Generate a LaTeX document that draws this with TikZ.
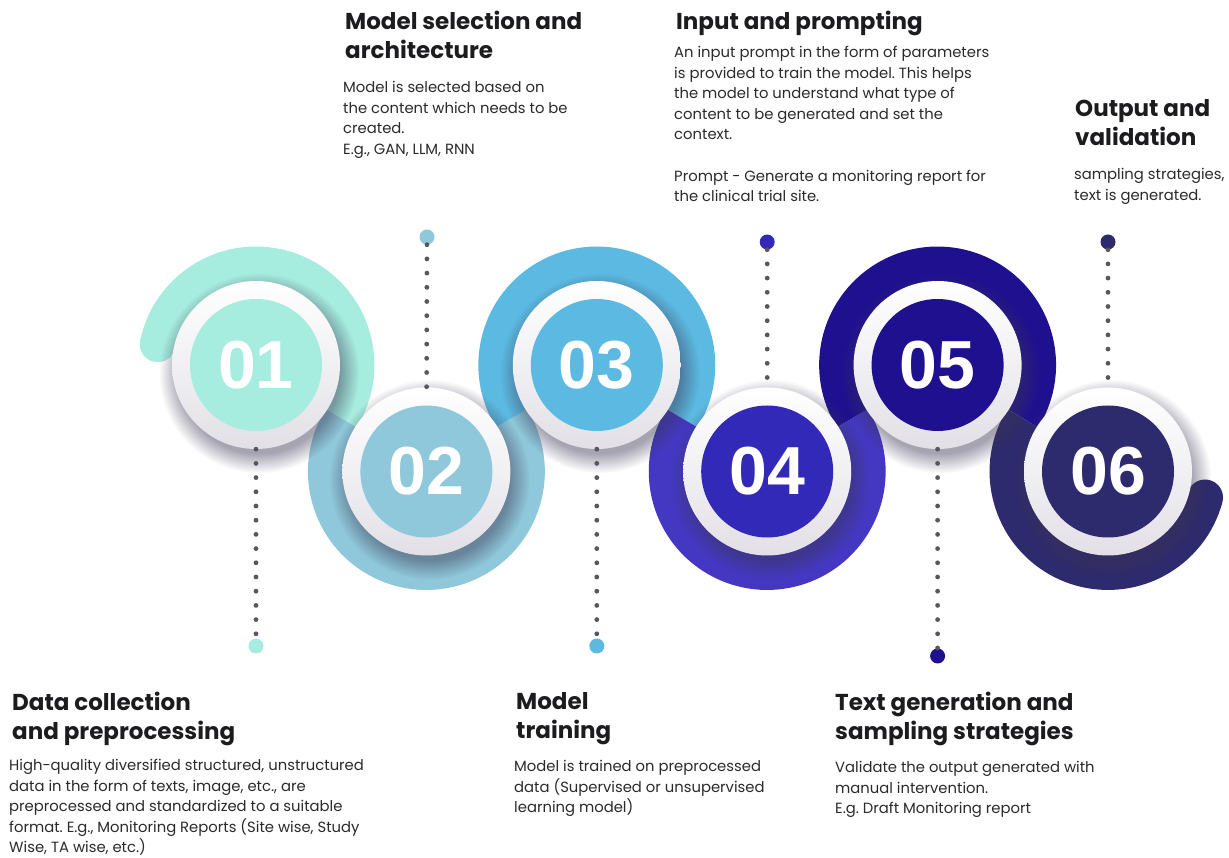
\documentclass[tikz,border=0pt]{standalone}
\usepackage{fontspec}
\setmainfont{Poppins}
\newfontfamily\numfamily{Liberation Sans}
\usetikzlibrary{positioning, fadings}
\frenchspacing

\definecolor{mintc}{HTML}{A6EDDF}
\definecolor{steelc}{HTML}{8FC8DA}
\definecolor{skyc}{HTML}{5CBAE2}
\definecolor{violetc}{HTML}{3329B8}
\definecolor{violetband}{HTML}{4438C2}
\definecolor{indigoc}{HTML}{1F1090}
\definecolor{navyc}{HTML}{2E2A6E}
\definecolor{ringgray}{HTML}{E2E0E6}
\definecolor{shadowc}{HTML}{3A3552}
\definecolor{dotgray}{HTML}{58585C}
\definecolor{inkc}{HTML}{1C1C1F}
\definecolor{bodyc}{HTML}{2A2A2D}

\def\bandr{100.45}

\tikzset{
  band/.style={line width=36pt},
  softshadow/.style={fill=shadowc, opacity=0.45, path fading=circle with fuzzy edge 20 percent},
  ring/.style={circle, minimum size=168pt, inner sep=0pt, top color=white, bottom color=ringgray},
  disc/.style={circle, minimum size=132pt, inner sep=0pt, text=white,
    font=\numfamily\bfseries\fontsize{68}{68}\selectfont},
  enddot/.style={circle, minimum size=15pt, inner sep=0pt},
  dotline/.style={dotgray, line width=4.8pt, line cap=round, dash pattern=on 0pt off 14.2pt},
  head/.style={anchor=north west, inner sep=0pt, align=left, text=inkc,
    font=\bfseries\fontsize{23}{29.2}\selectfont},
  body/.style={anchor=north west, inner sep=0pt, align=left, text=bodyc,
    font=\fontsize{14.8}{20.6}\selectfont}
}

\begin{document}
\begin{tikzpicture}[x=1pt, y=1pt]
\useasboundingbox (0,0) rectangle (1229,857);

\coordinate (c1) at (256,492);
\coordinate (c2) at (426.4,385.5);
\coordinate (c3) at (596.8,492);
\coordinate (c4) at (767.2,385.5);
\coordinate (c5) at (937.6,492);
\coordinate (c6) at (1108,385.5);

\draw[band, mintc] (c1) ++(168:\bandr) arc[start angle=168, end angle=-32, radius=\bandr];
\fill[mintc] (c1) ++(168:\bandr) circle[radius=18];
\draw[band, steelc] (c2) ++(148:\bandr) arc[start angle=148, end angle=392, radius=\bandr];
\draw[band, skyc] (c3) ++(212:\bandr) arc[start angle=212, end angle=-32, radius=\bandr];
\draw[band, violetband] (c4) ++(148:\bandr) arc[start angle=148, end angle=392, radius=\bandr];
\draw[band, indigoc] (c5) ++(212:\bandr) arc[start angle=212, end angle=-32, radius=\bandr];
\draw[band, navyc] (c6) ++(148:\bandr) arc[start angle=148, end angle=345, radius=\bandr];
\fill[navyc] (c6) ++(345:\bandr) circle[radius=18];

\fill[softshadow] ([shift={(3,-8)}]c1) circle[radius=100];
\fill[softshadow] ([shift={(3,-8)}]c2) circle[radius=100];
\fill[softshadow] ([shift={(3,-8)}]c3) circle[radius=100];
\fill[softshadow] ([shift={(3,-8)}]c4) circle[radius=100];
\fill[softshadow] ([shift={(3,-8)}]c5) circle[radius=100];
\fill[softshadow] ([shift={(3,-8)}]c6) circle[radius=100];

\node[ring] (r1) at (c1) {};
\node[ring] (r2) at (c2) {};
\node[ring] (r3) at (c3) {};
\node[ring] (r4) at (c4) {};
\node[ring] (r5) at (c5) {};
\node[ring] (r6) at (c6) {};

\node[disc, fill=mintc] (n1) at (c1) {01};
\node[disc, fill=steelc] (n2) at (c2) {02};
\node[disc, fill=skyc] (n3) at (c3) {03};
\node[disc, fill=violetc] (n4) at (c4) {04};
\node[disc, fill=indigoc] (n5) at (c5) {05};
\node[disc, fill=navyc] (n6) at (c6) {06};

\node[enddot, fill=mintc] (d1) at (256,211) {};
\node[enddot, fill=steelc] (d2) at (427,620) {};
\node[enddot, fill=skyc] (d3) at (596.8,211) {};
\node[enddot, fill=violetc] (d4) at (767.2,615) {};
\node[enddot, fill=indigoc] (d5) at (937.6,201) {};
\node[enddot, fill=navyc] (d6) at (1108,615) {};

\draw
  (r1) edge[dotline] (d1)
  (d2) edge[dotline] (r2)
  (r3) edge[dotline] (d3)
  (d4) edge[dotline] (r4)
  (r5) edge[dotline] (d5)
  (d6) edge[dotline] (r6);

\node[head] (t1) at (12,165) {Data collection\\and preprocessing};
\node[head] (t2) at (345,846) {Model selection and\\architecture};
\node[head] (t3) at (516,165) {Model\\training};
\node[head] (t4) at (676,846) {Input and prompting};
\node[head] (t5) at (835,165) {Text generation and\\sampling strategies};
\node[head] (t6) at (1075,758) {Output and\\validation};

\node[body] (b1) at (9,98) {High-quality diversified structured, unstructured\\data in the form of texts, image, etc., are\\preprocessed and standardized to a suitable\\format. E.g., Monitoring Reports (Site wise, Study\\Wise, TA wise, etc.)};
\node[body] (b2) at (343,776) {Model is selected based on\\the content which needs to be\\created.\\E.g., GAN, LLM, RNN};
\node[body] (b3) at (514,97) {Model is trained on preprocessed\\data (Supervised or unsupervised\\learning model)};
\node[body] (b4) at (674,811) {An input prompt in the form of parameters\\is provided to train the model. This helps\\the model to understand what type of\\content to be generated and set the\\context.\\[20.6pt]Prompt - Generate a monitoring report for\\the clinical trial site.};
\node[body] (b5) at (835,96) {Validate the output generated with\\manual intervention.\\E.g. Draft Monitoring report};
\node[body] (b6) at (1074,689) {sampling strategies,\\text is generated.};
\end{tikzpicture}
\end{document}
